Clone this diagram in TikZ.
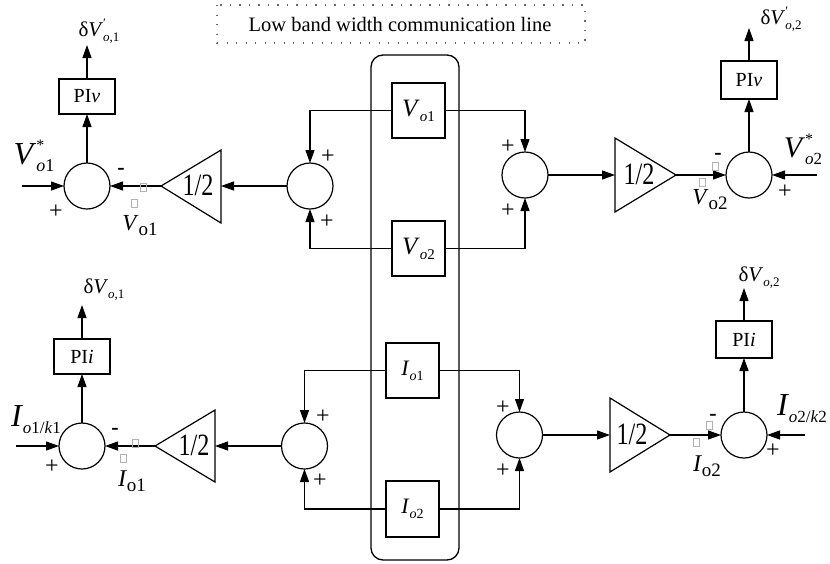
\documentclass[tikz,border=0pt]{standalone}
\usepackage{fontspec}
\setmainfont{Liberation Serif}
\usepackage{graphicx}
\usetikzlibrary{arrows.meta}
\newcommand{\fsz}[1]{\fontsize{#1}{#1}\selectfont}
\begin{document}
\begin{tikzpicture}[x=1pt,y=-1pt,
  every node/.style={inner sep=0pt, outer sep=0pt},
  ln/.style={line width=1.2pt},
  arr/.style={ln, -{Triangle[length=13pt,width=9pt]}},
  sumc/.style={circle, draw, line width=1.2pt, minimum size=46pt},
  blk/.style={draw, line width=1.2pt, minimum width=53pt, minimum height=55pt},
  pibox/.style={draw, line width=1.2pt, minimum width=56pt, font=\fsz{20}},
  sgn/.style={font=\fsz{24}},
  minus/.style={font=\fsz{22}\bfseries},
  gsq/.style={draw=gray!60, line width=0.5pt, minimum width=6pt, minimum height=8pt},
  gain/.style={font=\fsz{31}}
]
\useasboundingbox (0,0) rectangle (830,563);

% communication line label
\draw[line width=1.2pt, gray!80!black, dash pattern=on 1.2pt off 8.3pt] (217,5) rectangle (585,43);
\node[font=\fsz{20.5}] (comm) at (400,24) {Low band width communication line};

% bus
\node[draw, line width=1.3pt, rounded corners=12pt, minimum width=88pt, minimum height=505pt] (bus) at (415,307.5) {};

% data blocks
\node[blk] (vo1) at (418.5,110.5) {{\fsz{25}\textit{V}}\raisebox{-5pt}{\fsz{15}\textit{o}1}};
\node[blk] (vo2) at (418.5,248.5) {{\fsz{25}\textit{V}}\raisebox{-5pt}{\fsz{15}\textit{o}2}};
\node[blk] (io1) at (412.5,370.5) {{\fsz{22}\textit{I}}\raisebox{-5pt}{\fsz{14}\textit{o}1}};
\node[blk, minimum height=56pt] (io2) at (412.5,509) {{\fsz{22}\textit{I}}\raisebox{-5pt}{\fsz{14}\textit{o}2}};

% ---------------- top left -----------------
\node[sumc] (s1) at (87,186) {};
\node[pibox, minimum height=35pt] (p1) at (87,96.5) {PI\textit{v}};
\coordinate (o1) at (87,45);
\coordinate (in1) at (22,186);
\draw[arr] (s1.north) -- (p1.south);
\draw[arr] (p1.north) -- (o1);
\draw[arr] (in1) -- (s1.west);
\node (l1) at (99,31) {{\fsz{21}δ\textit{V}}\rlap{\raisebox{9pt}{\fsz{13}′}}\raisebox{-5pt}{\fsz{13}\textit{o},1}};
\node (r1) at (34,156) {{\fsz{32}\textit{V}}\rlap{\raisebox{14pt}{\fsz{16}*}}\raisebox{-7pt}{\fsz{18}\textit{o}1}};
\node[minus] (m1) at (121,171) {-};
\node[sgn] (pl1) at (56,212) {+};
\draw[ln] (221,150) -- (221,223) -- (161,186) -- cycle;
\coordinate (t1a) at (161,186);
\coordinate (t1b) at (221,186);
\node[gain] (t1) at (198,185) {\scalebox{0.78}[1]{1/2}};
\draw[arr] (t1a) -- (s1.east);
\node[gsq] (q1) at (143,187) {};
\node[gsq] (q2) at (134,203) {};
\node (f1) at (140,226) {{\fsz{23}\textit{V}}\raisebox{-5pt}{\fsz{19}o1}};

% top middle sums
\node[sumc] (s2) at (310,186) {};
\node[sumc] (s3) at (525,175) {};
\draw[arr] (vo1.west) -| (s2.north);
\draw[arr] (vo2.west) -| (s2.south);
\draw[arr] (vo1.east) -| (s3.north);
\draw[arr] (vo2.east) -| (s3.south);
\draw[arr] (s2.west) -- (t1b);
\node[sgn] (pl2) at (328,157) {+};
\node[sgn] (pl3) at (327,222) {+};
\node[sgn] (pl4) at (508,147) {+};
\node[sgn] (pl5) at (508,211) {+};

% ---------------- top right -----------------
\draw[ln] (615,138) -- (615,212) -- (676,175) -- cycle;
\coordinate (t2l) at (615,175);
\coordinate (t2a) at (676,175);
\node[gain] (t2) at (639,174) {\scalebox{0.78}[1]{1/2}};
\draw[arr] (s3.east) -- (t2l);
\node[sumc] (s4) at (749,175) {};
\draw[arr] (t2a) -- (s4.west);
\node[pibox, minimum height=38pt] (p2) at (749,80) {PI\textit{v}};
\coordinate (o2) at (749,28);
\coordinate (in2) at (817,175);
\draw[arr] (s4.north) -- (p2.south);
\draw[arr] (p2.north) -- (o2);
\draw[arr] (in2) -- (s4.east);
\node (l2) at (781,19) {{\fsz{21}δ\textit{V}}\rlap{\raisebox{9pt}{\fsz{13}′}}\raisebox{-5pt}{\fsz{13}\textit{o},2}};
\node (r2) at (803,149) {{\fsz{30}\textit{V}}\rlap{\raisebox{13pt}{\fsz{16}*}}\raisebox{-7pt}{\fsz{17}\textit{o}2}};
\node[minus] (m2) at (718,156) {-};
\node[sgn] (pl6) at (785,192) {+};
\node[gsq] (q3) at (715,166) {};
\node[gsq] (q4) at (702,182) {};
\node (f2) at (710,200) {{\fsz{23}\textit{V}}\raisebox{-5pt}{\fsz{19}o2}};

% ---------------- bottom left -----------------
\node[sumc] (s5) at (82,446) {};
\node[pibox, minimum height=35pt] (p3) at (82,356.5) {PI\textit{i}};
\coordinate (o3) at (82,305);
\coordinate (in3) at (16,446);
\draw[arr] (s5.north) -- (p3.south);
\draw[arr] (p3.north) -- (o3);
\draw[arr] (in3) -- (s5.west);
\node (l3) at (104,290) {{\fsz{21}δ\textit{V}}\raisebox{-5pt}{\fsz{13}\textit{o},1}};
\node (r3) at (36,420) {{\fsz{32}\textit{I}}\raisebox{-7pt}{\fsz{17}\textit{o}1/\textit{k}1}};
\node[minus] (m3) at (115,431) {-};
\node[sgn] (pl7) at (52,467) {+};
\draw[ln] (215,410) -- (215,482) -- (155,446) -- cycle;
\coordinate (t3a) at (155,446);
\coordinate (t3b) at (215,446);
\node[gain] (t3) at (194,445) {\scalebox{0.78}[1]{1/2}};
\draw[arr] (t3a) -- (s5.east);
\node[gsq] (q5) at (135,443) {};
\node[gsq] (q6) at (123,458) {};
\node (f3) at (132,481) {{\fsz{24}\textit{I}}\raisebox{-5pt}{\fsz{19}o1}};

% bottom middle sums
\node[sumc] (s6) at (304.5,446) {};
\node[sumc] (s7) at (519.5,435) {};
\draw[arr] (io1.west) -| (s6.north);
\draw[arr] (io2.west) -| (s6.south);
\draw[arr] (io1.east) -| (s7.north);
\draw[arr] (io2.east) -| (s7.south);
\draw[arr] (s6.west) -- (t3b);
\node[sgn] (pl8) at (323,417) {+};
\node[sgn] (pl9) at (320,481) {+};
\node[sgn] (pl10) at (503,408) {+};
\node[sgn] (pl11) at (503,471) {+};

% ---------------- bottom right -----------------
\draw[ln] (610,398) -- (610,472) -- (670,435) -- cycle;
\coordinate (t4l) at (610,435);
\coordinate (t4a) at (670,435);
\node[gain] (t4) at (632,434) {\scalebox{0.78}[1]{1/2}};
\draw[arr] (s7.east) -- (t4l);
\node[sumc] (s8) at (744,435) {};
\draw[arr] (t4a) -- (s8.west);
\node[pibox, minimum height=37pt] (p4) at (744,339.5) {PI\textit{i}};
\coordinate (o4) at (744,288);
\coordinate (in4) at (805,435);
\draw[arr] (s8.north) -- (p4.south);
\draw[arr] (p4.north) -- (o4);
\draw[arr] (in4) -- (s8.east);
\node (l4) at (759,278) {{\fsz{21}δ\textit{V}}\raisebox{-5pt}{\fsz{13}\textit{o},2}};
\node (r4) at (802,409) {{\fsz{32}\textit{I}}\raisebox{-7pt}{\fsz{17}\textit{o}2/\textit{k}2}};
\node[minus] (m4) at (713,417) {-};
\node[sgn] (pl12) at (773,451) {+};
\node[gsq] (q7) at (709,425) {};
\node[gsq] (q8) at (696,442) {};
\node (f4) at (707,466) {{\fsz{24}\textit{I}}\raisebox{-5pt}{\fsz{19}o2}};
\end{tikzpicture}
\end{document}
